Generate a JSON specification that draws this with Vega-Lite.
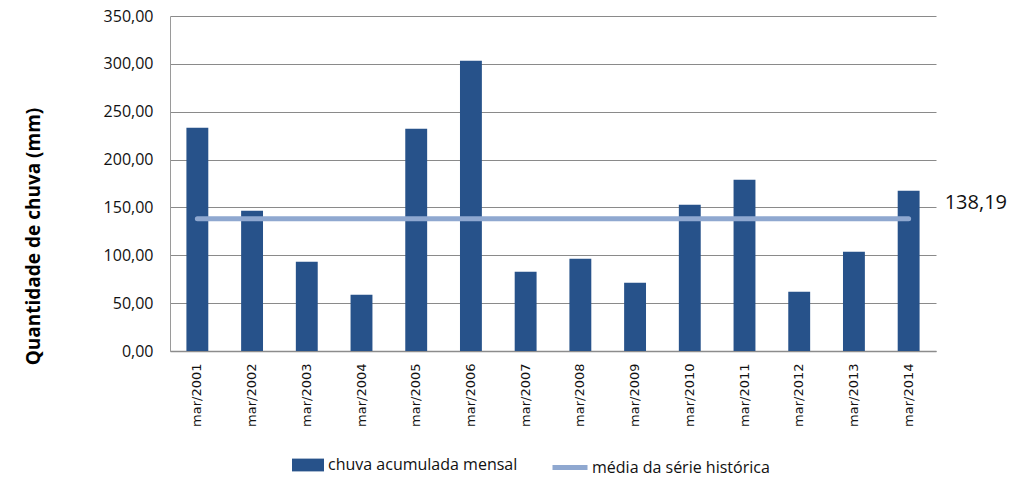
{
  "$schema": "https://vega.github.io/schema/vega-lite/v6.json",
  "width": 766,
  "height": 335,
  "autosize": {"type": "none"},
  "padding": {"left": 170, "top": 16, "right": 84, "bottom": 127},
  "background": "white",
  "config": {
    "locale": {"number": {"decimal": ",", "thousands": ".", "grouping": [3], "currency": ["R$", ""]}},
    "view": {"stroke": null},
    "font": "Open Sans"
  },
  "data": {
    "values": [
      {"mes": "mar/2001", "chuva": 233.3, "media": 138.19, "serie": "chuva acumulada mensal", "serie2": "média da série histórica"},
      {"mes": "mar/2002", "chuva": 146.6, "media": 138.19, "serie": "chuva acumulada mensal", "serie2": "média da série histórica"},
      {"mes": "mar/2003", "chuva": 93.3, "media": 138.19, "serie": "chuva acumulada mensal", "serie2": "média da série histórica"},
      {"mes": "mar/2004", "chuva": 58.8, "media": 138.19, "serie": "chuva acumulada mensal", "serie2": "média da série histórica"},
      {"mes": "mar/2005", "chuva": 232.3, "media": 138.19, "serie": "chuva acumulada mensal", "serie2": "média da série histórica"},
      {"mes": "mar/2006", "chuva": 303.3, "media": 138.19, "serie": "chuva acumulada mensal", "serie2": "média da série histórica"},
      {"mes": "mar/2007", "chuva": 82.9, "media": 138.19, "serie": "chuva acumulada mensal", "serie2": "média da série histórica"},
      {"mes": "mar/2008", "chuva": 96.4, "media": 138.19, "serie": "chuva acumulada mensal", "serie2": "média da série histórica"},
      {"mes": "mar/2009", "chuva": 71.4, "media": 138.19, "serie": "chuva acumulada mensal", "serie2": "média da série histórica"},
      {"mes": "mar/2010", "chuva": 152.9, "media": 138.19, "serie": "chuva acumulada mensal", "serie2": "média da série histórica"},
      {"mes": "mar/2011", "chuva": 179.0, "media": 138.19, "serie": "chuva acumulada mensal", "serie2": "média da série histórica"},
      {"mes": "mar/2012", "chuva": 62.0, "media": 138.19, "serie": "chuva acumulada mensal", "serie2": "média da série histórica"},
      {"mes": "mar/2013", "chuva": 103.8, "media": 138.19, "serie": "chuva acumulada mensal", "serie2": "média da série histórica"},
      {"mes": "mar/2014", "chuva": 167.5, "media": 138.19, "serie": "chuva acumulada mensal", "serie2": "média da série histórica"}
    ]
  },
  "encoding": {
    "x": {
      "field": "mes", "type": "nominal", "sort": null,
      "scale": {"paddingInner": 0.6, "paddingOuter": 0.3},
      "axis": {
        "title": null, "labelAngle": -90, "labelAlign": "right", "labelBaseline": "middle",
        "labelFont": "DejaVu Sans", "labelFontSize": 13, "labelColor": "#111111", "labelPadding": 12,
        "ticks": false, "domainColor": "#8c8c8c", "domainWidth": 1.5
      }
    }
  },
  "layer": [
    {
      "mark": {"type": "bar", "color": "#27528A"},
      "encoding": {
        "y": {
          "field": "chuva", "type": "quantitative",
          "scale": {"domain": [0, 350], "nice": false},
          "axis": {
            "title": "Quantidade de chuva (mm)", "values": [0, 50, 100, 150, 200, 250, 300, 350],
            "format": ".2f", "labelFont": "Open Sans", "labelFontSize": 16, "labelColor": "#111111",
            "labelPadding": 17, "ticks": false, "domainColor": "#9a9a9a",
            "gridColor": "#8a8a8a", "gridWidth": 1,
            "titleFont": "Open Sans", "titleFontSize": 19, "titleFontWeight": "bold", "titleColor": "#000000",
            "titleX": -137, "titleY": 220, "titleAngle": -90, "titleAlign": "center", "titleBaseline": "middle"
          }
        },
        "fill": {
          "field": "serie", "type": "nominal",
          "scale": {"range": ["#27528A"]},
          "legend": {
            "title": null, "orient": "none", "legendX": 122, "legendY": 433,
            "symbolType": "M-1,-0.4H1V0.4H-1Z", "symbolSize": 1024, "symbolStrokeWidth": 0,
            "labelFont": "Open Sans", "labelFontSize": 16, "labelColor": "#111111", "labelOffset": 4, "labelLimit": 400
          }
        }
      }
    },
    {
      "mark": {"type": "line", "strokeWidth": 5, "strokeCap": "round"},
      "encoding": {
        "y": {"field": "media", "type": "quantitative"},
        "stroke": {
          "field": "serie2", "type": "nominal",
          "scale": {"range": ["#8FA8D0"]},
          "legend": {
            "title": null, "orient": "none", "legendX": 380, "legendY": 431.5,
            "symbolType": "stroke", "symbolSize": 1225, "symbolStrokeWidth": 5,
            "labelFont": "Open Sans", "labelFontSize": 16, "labelColor": "#111111", "labelOffset": 2, "labelLimit": 400
          }
        }
      }
    },
    {
      "transform": [{"filter": "datum.mes == 'mar/2014'"}],
      "mark": {"type": "text", "align": "left", "baseline": "middle", "dx": 36, "dy": -16, "fontSize": 20, "font": "Open Sans", "color": "#111111"},
      "encoding": {
        "y": {"field": "media", "type": "quantitative"},
        "text": {"field": "media", "type": "quantitative", "format": ".2f"}
      }
    }
  ]
}
